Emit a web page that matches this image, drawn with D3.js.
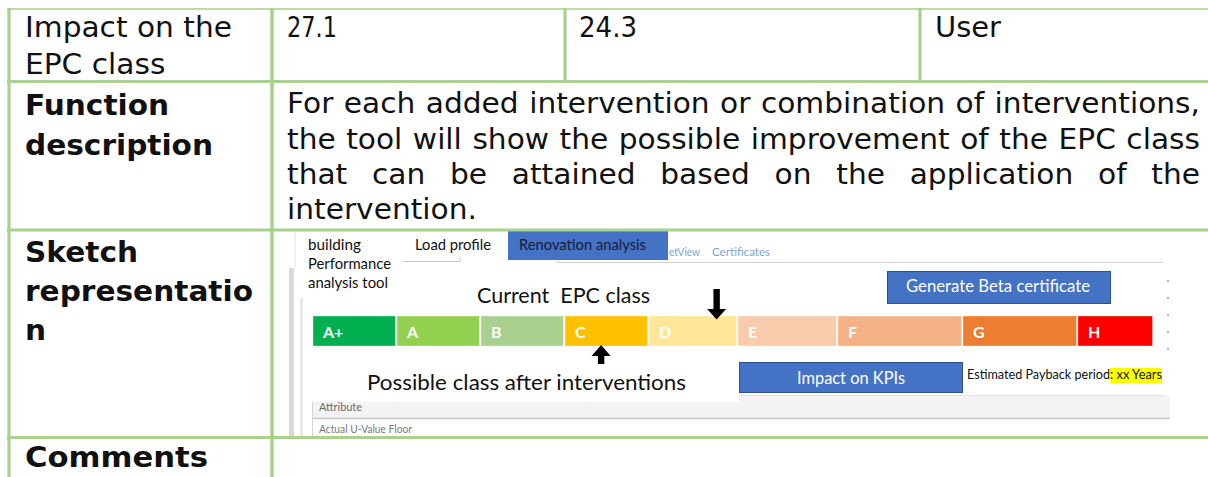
<!DOCTYPE html>
<html><head><meta charset="utf-8">
<script src="https://cdn.jsdelivr.net/npm/d3@7"></script>
<style>html,body{margin:0;padding:0;background:#fff;overflow:hidden} text{white-space:pre}</style>
</head><body><svg id="c" width="1208" height="477"></svg>
<script>
// ---------- data ----------
const rowLabels = [["Impact on the","EPC class"],["Function","description"],["Sketch","representatio","n"],["Comments"]];
const rowLabelBold = [false,true,true,true];
const impactValues = ["27.1","24.3","User"];
const descriptionLines = [
  "For each added intervention or combination of interventions,",
  "the tool will show the possible improvement of the EPC class",
  "that can be attained based on the application of the",
  "intervention."
];
const descriptionJustified = [true,true,true,false];
const toolTitle = ["building","Performance","analysis tool"];
const tabLabels = ["Load profile","Renovation analysis","etView","Certificates"];
const epcClasses = ["A+","A","B","C","D","E","F","G","H"];
const epcSpan = [84,84,84,84,89,100,125,115,76];
const epcColors = ["#00b050","#92d050","#a9d08e","#ffc000","#ffe699","#f8cbad","#f4b183","#ed7d31","#ff0000"];
const currentClass = "D";
const possibleClass = "C";
const buttonLabels = ["Generate Beta certificate","Impact on KPIs"];
const paybackLabel = ["Estimated Payback period", ": xx Years"];
const attributeRows = ["Attribute","Actual U-Value Floor"];

// ---------- helpers ----------
const svg = d3.select("#c");
const GREEN = "#a9d18e";
const REG = "DejaVu Sans";

function natural(str, size, bold, family) {
  const t = svg.append("text").attr("font-family", family || REG).attr("font-size", size)
    .attr("font-weight", bold ? "bold" : "normal").text(str);
  const w = t.node().getComputedTextLength();
  t.remove();
  return w;
}
const kReg = 207 / natural("Impact on the", 28, false);
const kBold = 228 / natural("representatio", 28, true);

function mtext(g, str, x, y, bold, width) {
  const k = bold ? kBold : kReg;
  const w = width || natural(str, 28, bold) * k;
  return g.append("text").attr("x", x).attr("y", y).attr("font-family", REG).attr("font-size", 28)
    .attr("font-weight", bold ? "bold" : "normal").attr("fill", "#111")
    .attr("textLength", w).attr("lengthAdjust", "spacingAndGlyphs").text(str);
}
function ftext(g, str, x, y, width, size, opts) {
  opts = opts || {};
  return g.append("text").attr("x", x).attr("y", y)
    .attr("font-family", opts.family || "Lato").attr("font-size", size)
    .attr("font-weight", opts.bold ? "bold" : "normal")
    .attr("fill", opts.fill || "#111")
    .attr("textLength", width).attr("lengthAdjust", "spacingAndGlyphs").text(str);
}

// ---------- sketch ----------
const sk = svg.append("g");
sk.append("rect").attr("x", 289).attr("y", 268).attr("width", 5).attr("height", 168).attr("fill", "#d9d9d9");
sk.append("line").attr("x1", 295).attr("x2", 295).attr("y1", 232).attr("y2", 268).attr("stroke", "#e3e3e3");
sk.append("rect").attr("x", 300).attr("y", 298).attr("width", 3).attr("height", 138).attr("fill", "#e8e8e8");

const titleY = [250, 269, 288];
const titleW = [53, 83, 80];
toolTitle.forEach((t, i) => ftext(sk, t, 308, titleY[i], titleW[i], 15));

ftext(sk, tabLabels[0], 415, 250, 76, 15);
sk.append("path").attr("d", "M403,261.5H460V257").attr("fill", "none").attr("stroke", "#c4c4c4");
sk.append("path").attr("d", "M557,258V262.5H1163").attr("fill", "none").attr("stroke", "#d0d0d0");
sk.append("rect").attr("x", 508).attr("y", 231).attr("width", 160).attr("height", 29).attr("fill", "#4472c4");
ftext(sk, tabLabels[1], 519, 250, 127, 15, {fill: "#1b1b3a"});
ftext(sk, tabLabels[2], 669, 256, 31, 10.5, {fill: "#7aa6d8"});
ftext(sk, tabLabels[3], 712, 256, 58, 10.5, {fill: "#7aa6d8"});

sk.append("rect").attr("x", 887.5).attr("y", 271.5).attr("width", 223).attr("height", 32)
  .attr("fill", "#4472c4").attr("stroke", "#2f528f");
ftext(sk, buttonLabels[0], 906, 292, 184, 16.5, {fill: "#fff"});

ftext(sk, "Current  EPC class", 477, 303, 173, 21);

// EPC bar
const cum = [0];
epcSpan.forEach(v => cum.push(cum[cum.length - 1] + v));
const xBar = d3.scaleLinear().domain([0, d3.sum(epcSpan)]).range([313, 1154]);
const bands = epcClasses.map((c, i) => ({c, x0: xBar(cum[i]), x1: xBar(cum[i + 1]), color: epcColors[i]}));
const barTop = 316, barH = 30;
sk.selectAll("rect.band").data(bands).join("rect").attr("class", "band")
  .attr("x", d => d.x0).attr("y", barTop).attr("width", d => d.x1 - d.x0 - 1.5).attr("height", barH)
  .attr("fill", d => d.color).attr("stroke", "#ffffff").attr("stroke-opacity", 0.35).attr("stroke-width", 1);
sk.selectAll("text.bandlab").data(bands).join("text").attr("class", "bandlab")
  .attr("x", d => d.x0 + 10).attr("y", 337.5).attr("font-family", "Lato").attr("font-weight", "bold")
  .attr("font-size", 16).attr("fill", "#fff").text(d => d.c);

// arrows
const curBand = bands.find(b => b.c === currentClass);
const posBand = bands.find(b => b.c === possibleClass);
const ax = curBand.x0 + (curBand.x1 - curBand.x0) * 0.76;
sk.append("path").attr("fill", "#000")
  .attr("d", `M${ax-3.2},289H${ax+3.2}V309H${ax+9.5}L${ax},319.5L${ax-9.5},309H${ax-3.2}Z`);
const bx = posBand.x0 + (posBand.x1 - posBand.x0) * 0.43;
sk.append("path").attr("fill", "#000")
  .attr("d", `M${bx},345L${bx+9.5},356H${bx+3.2}V376.5H${bx-3.2}V356H${bx-9.5}Z`);

// attribute table
sk.append("rect").attr("x", 312).attr("y", 396).attr("width", 858).attr("height", 22).attr("fill", "#f3f3f3");
sk.append("line").attr("x1", 739).attr("x2", 1165).attr("y1", 395.5).attr("y2", 395.5).attr("stroke", "#e2e2e2");
sk.append("rect").attr("x", 306).attr("y", 364).attr("width", 433).attr("height", 38).attr("fill", "#fff");
sk.append("line").attr("x1", 312).attr("x2", 1170).attr("y1", 418.5).attr("y2", 418.5).attr("stroke", "#c8c8c8").attr("stroke-width", 1.5);
sk.append("line").attr("x1", 312.5).attr("x2", 312.5).attr("y1", 402).attr("y2", 436).attr("stroke", "#d4d4d4");
ftext(sk, attributeRows[0], 319, 411, 43, 10.5, {fill: "#6b6b6b"});
ftext(sk, attributeRows[1], 319, 433, 93, 10.5, {fill: "#7a7a7a"});

ftext(sk, "Possible class after interventions", 367, 389.5, 319, 21);

sk.append("rect").attr("x", 739.5).attr("y", 362.5).attr("width", 223).attr("height", 30)
  .attr("fill", "#4472c4").attr("stroke", "#2f528f");
ftext(sk, buttonLabels[1], 797, 384, 108, 17.5, {fill: "#fff"});

sk.append("rect").attr("x", 1110).attr("y", 368).attr("width", 52).attr("height", 15).attr("fill", "#ffff00");
ftext(sk, paybackLabel[0], 967, 379, 143, 13);
ftext(sk, paybackLabel[1], 1110, 379, 52, 13);

sk.selectAll("circle.dot").data(d3.range(5)).join("circle").attr("class", "dot")
  .attr("cx", 1168).attr("cy", i => 281 + i * 17).attr("r", 1.3).attr("fill", "#bdbdbd");

// ---------- table text ----------
const tt = svg.append("g");
const labelBase = [[37, 74], [115, 155], [262, 301, 340], [467]];
rowLabels.forEach((lines, r) => lines.forEach((l, j) => mtext(tt, l, 25, labelBase[r][j], rowLabelBold[r],
  l === "Comments" ? 183 : null)));
const valX = [287, 579, 935];
const valW = [50, 58, 66];
impactValues.forEach((v, i) => mtext(tt, v, valX[i], 37, false, valW[i]));

const descY = [113.3, 148.5, 183.7, 218.6];
const spaceW = (natural("a a", 28, false) - natural("aa", 28, false)) * kReg;
descriptionLines.forEach((line, li) => {
  const words = line.split(" ");
  const widths = words.map(w => natural(w, 28, false) * kReg);
  const gap = descriptionJustified[li] ? (1200 - 287 - d3.sum(widths)) / (words.length - 1) : spaceW;
  let x = 287;
  words.forEach((w, i) => {
    tt.append("text").attr("x", x).attr("y", descY[li]).attr("font-family", REG).attr("font-size", 28)
      .attr("fill", "#111").attr("textLength", widths[i]).attr("lengthAdjust", "spacingAndGlyphs").text(w);
    x += widths[i] + gap;
  });
});

// ---------- table borders ----------
const bd = svg.append("g").attr("stroke", GREEN);
bd.append("line").attr("x1", 7).attr("x2", 1208).attr("y1", 9).attr("y2", 9).attr("stroke", "#bcdba7").attr("stroke-width", 2.2);
[81.5, 230, 437.5].forEach(y => bd.append("line").attr("x1", 7).attr("x2", 1208).attr("y1", y).attr("y2", y).attr("stroke-width", 3.2));
bd.append("line").attr("x1", 9).attr("x2", 9).attr("y1", 8).attr("y2", 477).attr("stroke-width", 3.2);
bd.append("line").attr("x1", 272).attr("x2", 272).attr("y1", 8).attr("y2", 477).attr("stroke-width", 3.5);
[565, 920].forEach(x => bd.append("line").attr("x1", x).attr("x2", x).attr("y1", 8).attr("y2", 82).attr("stroke-width", 3.2));
</script></body></html>
